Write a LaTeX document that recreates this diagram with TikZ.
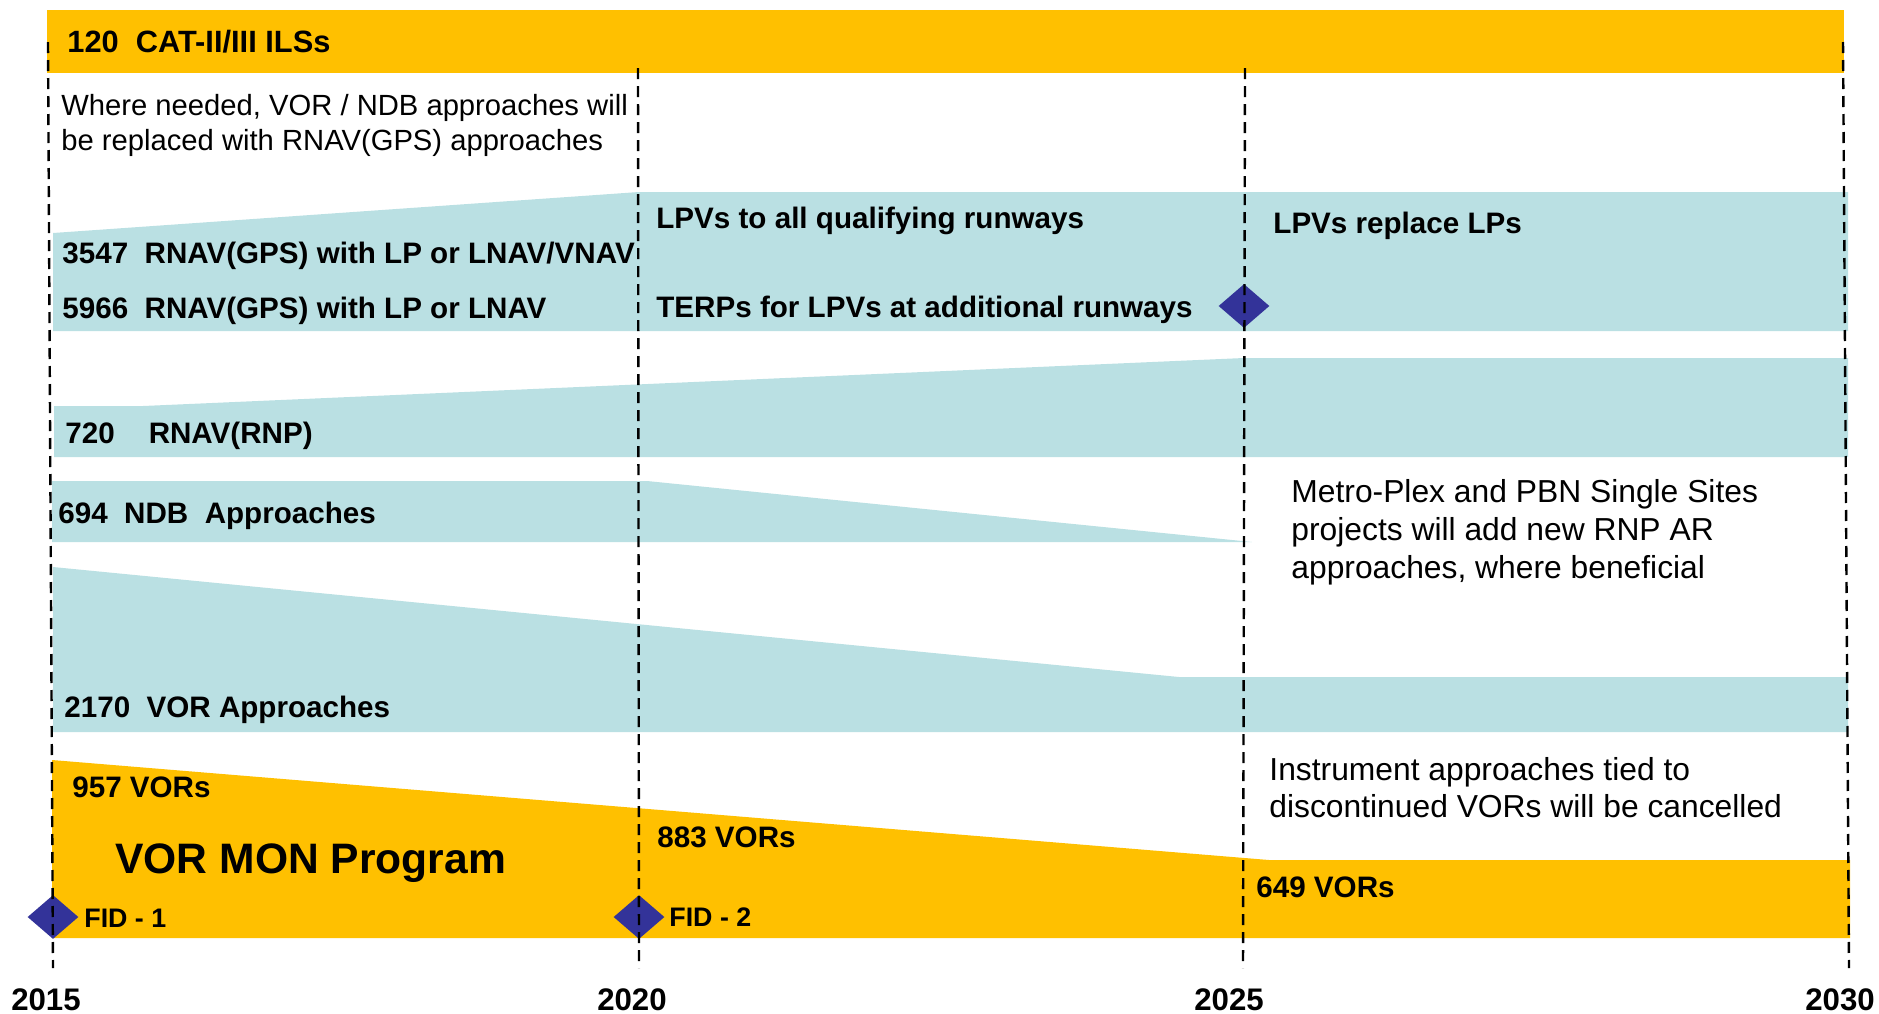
\documentclass[tikz,border=0pt]{standalone}
\usepackage{fontspec}
\setmainfont{Liberation Sans}
\usepackage{tikz}
\usetikzlibrary{positioning,shapes.geometric}
\definecolor{vorgold}{HTML}{FFC000}
\definecolor{bandteal}{HTML}{BAE0E3}
\definecolor{fidblue}{HTML}{333399}

\begin{document}
\begin{tikzpicture}[x=0.5pt, y=-0.5pt,
    lbl/.style={anchor=base west, inner sep=0pt, font=\fontsize{14.8}{17.5}\selectfont\bfseries},
    note/.style={anchor=north west, align=left, inner sep=0pt, font=\fontsize{15.9}{19}\selectfont},
    yearlbl/.style={anchor=base, inner sep=0pt, font=\fontsize{15.6}{18}\selectfont\bfseries},
    milestone/.style={diamond, fill=fidblue, inner sep=0pt, minimum width=25.5pt, minimum height=22pt},
    yearline/.style={black, line width=1.2pt, dash pattern=on 5.5pt off 3.5pt}]
  \useasboundingbox (0,0) rectangle (1879,1013);

  % bands
  \fill[vorgold] (47,10) rectangle (1844,73);
  \fill[bandteal] (53,233) -- (639,192) -- (1848,192) -- (1848,331) -- (53,331) -- cycle;
  \fill[bandteal] (54,406) -- (143,406) -- (1244,358) -- (1848,358) -- (1848,457) -- (54,457) -- cycle;
  \fill[bandteal] (52,481) -- (647,481) -- (1252,542) -- (52,542) -- cycle;
  \fill[bandteal] (53,567) -- (1179,677) -- (1848,677) -- (1848,732) -- (53,732) -- cycle;
  \fill[vorgold] (52,760) -- (1269,860) -- (1850,860) -- (1850,938) -- (52,938) -- cycle;

  % milestones
  \node[milestone] (terps) at (1244,306) {};
  \node[milestone] (fid1) at (53,917) {};
  \node[milestone] (fid2) at (639,917) {};

  % year grid
  \foreach \yr/\xt/\yt/\xb/\xl in {2015/48/42/53/46, 2020/638/68/639/632, 2025/1245/68/1243/1229, 2030/1843/42/1849/1840} {
    \coordinate (top\yr) at (\xt,\yt);
    \coordinate (bot\yr) at (\xb,968);
    \draw[yearline] (top\yr) -- (bot\yr);
    \node[yearlbl] (year\yr) at (\xl,1010) {\yr};
  }

  % labels
  \node[lbl, font=\fontsize{15.4}{18}\selectfont\bfseries] (ils) at (67,52) {120\ \ CAT-II/III ILSs};
  \node[note, font=\fontsize{14.6}{17.5}\selectfont] (vornote) at (61,94)
    {Where needed, VOR / NDB approaches will\\be replaced with RNAV(GPS) approaches};
  \node[lbl] (gps1) at (62,263) {3547\ \ RNAV(GPS) with LP or LNAV/VNAV};
  \node[lbl] (gps2) at (62,318) {5966\ \ RNAV(GPS) with LP or LNAV};
  \node[lbl] (lpv) at (656,228) {LPVs to all qualifying runways};
  \node[lbl] (terpslbl) at (656,317) {TERPs for LPVs at additional runways};
  \node[lbl] (lpvlp) at (1273,233) {LPVs replace LPs};
  \node[lbl] (rnp) at (65,443) {720\hspace{17pt}RNAV(RNP)};
  \node[lbl] (ndb) at (58,523) {694\ \ NDB\ \ Approaches};
  \node[note] (metro) at (1291,479)
    {Metro-Plex and PBN Single Sites\\projects will add new RNP AR\\approaches, where beneficial};
  \node[lbl] (vorapp) at (64,717) {2170\ \ VOR Approaches};
  \node[note, font=\fontsize{15.9}{18.5}\selectfont] (cancel) at (1269,757)
    {Instrument approaches tied to\\discontinued VORs will be cancelled};
  \node[lbl] (vor957) at (72,797) {957 VORs};
  \node[lbl] (vor883) at (657,847) {883 VORs};
  \node[lbl] (vor649) at (1256,897) {649 VORs};
  \node[lbl, font=\fontsize{21.3}{25}\selectfont\bfseries] (vormon) at (115,873) {VOR MON Program};
  \node[lbl, font=\fontsize{13.4}{16}\selectfont\bfseries] (fid1lbl) at (84,927) {FID - 1};
  \node[lbl, font=\fontsize{13.4}{16}\selectfont\bfseries] (fid2lbl) at (669,926) {FID - 2};
\end{tikzpicture}
\end{document}
